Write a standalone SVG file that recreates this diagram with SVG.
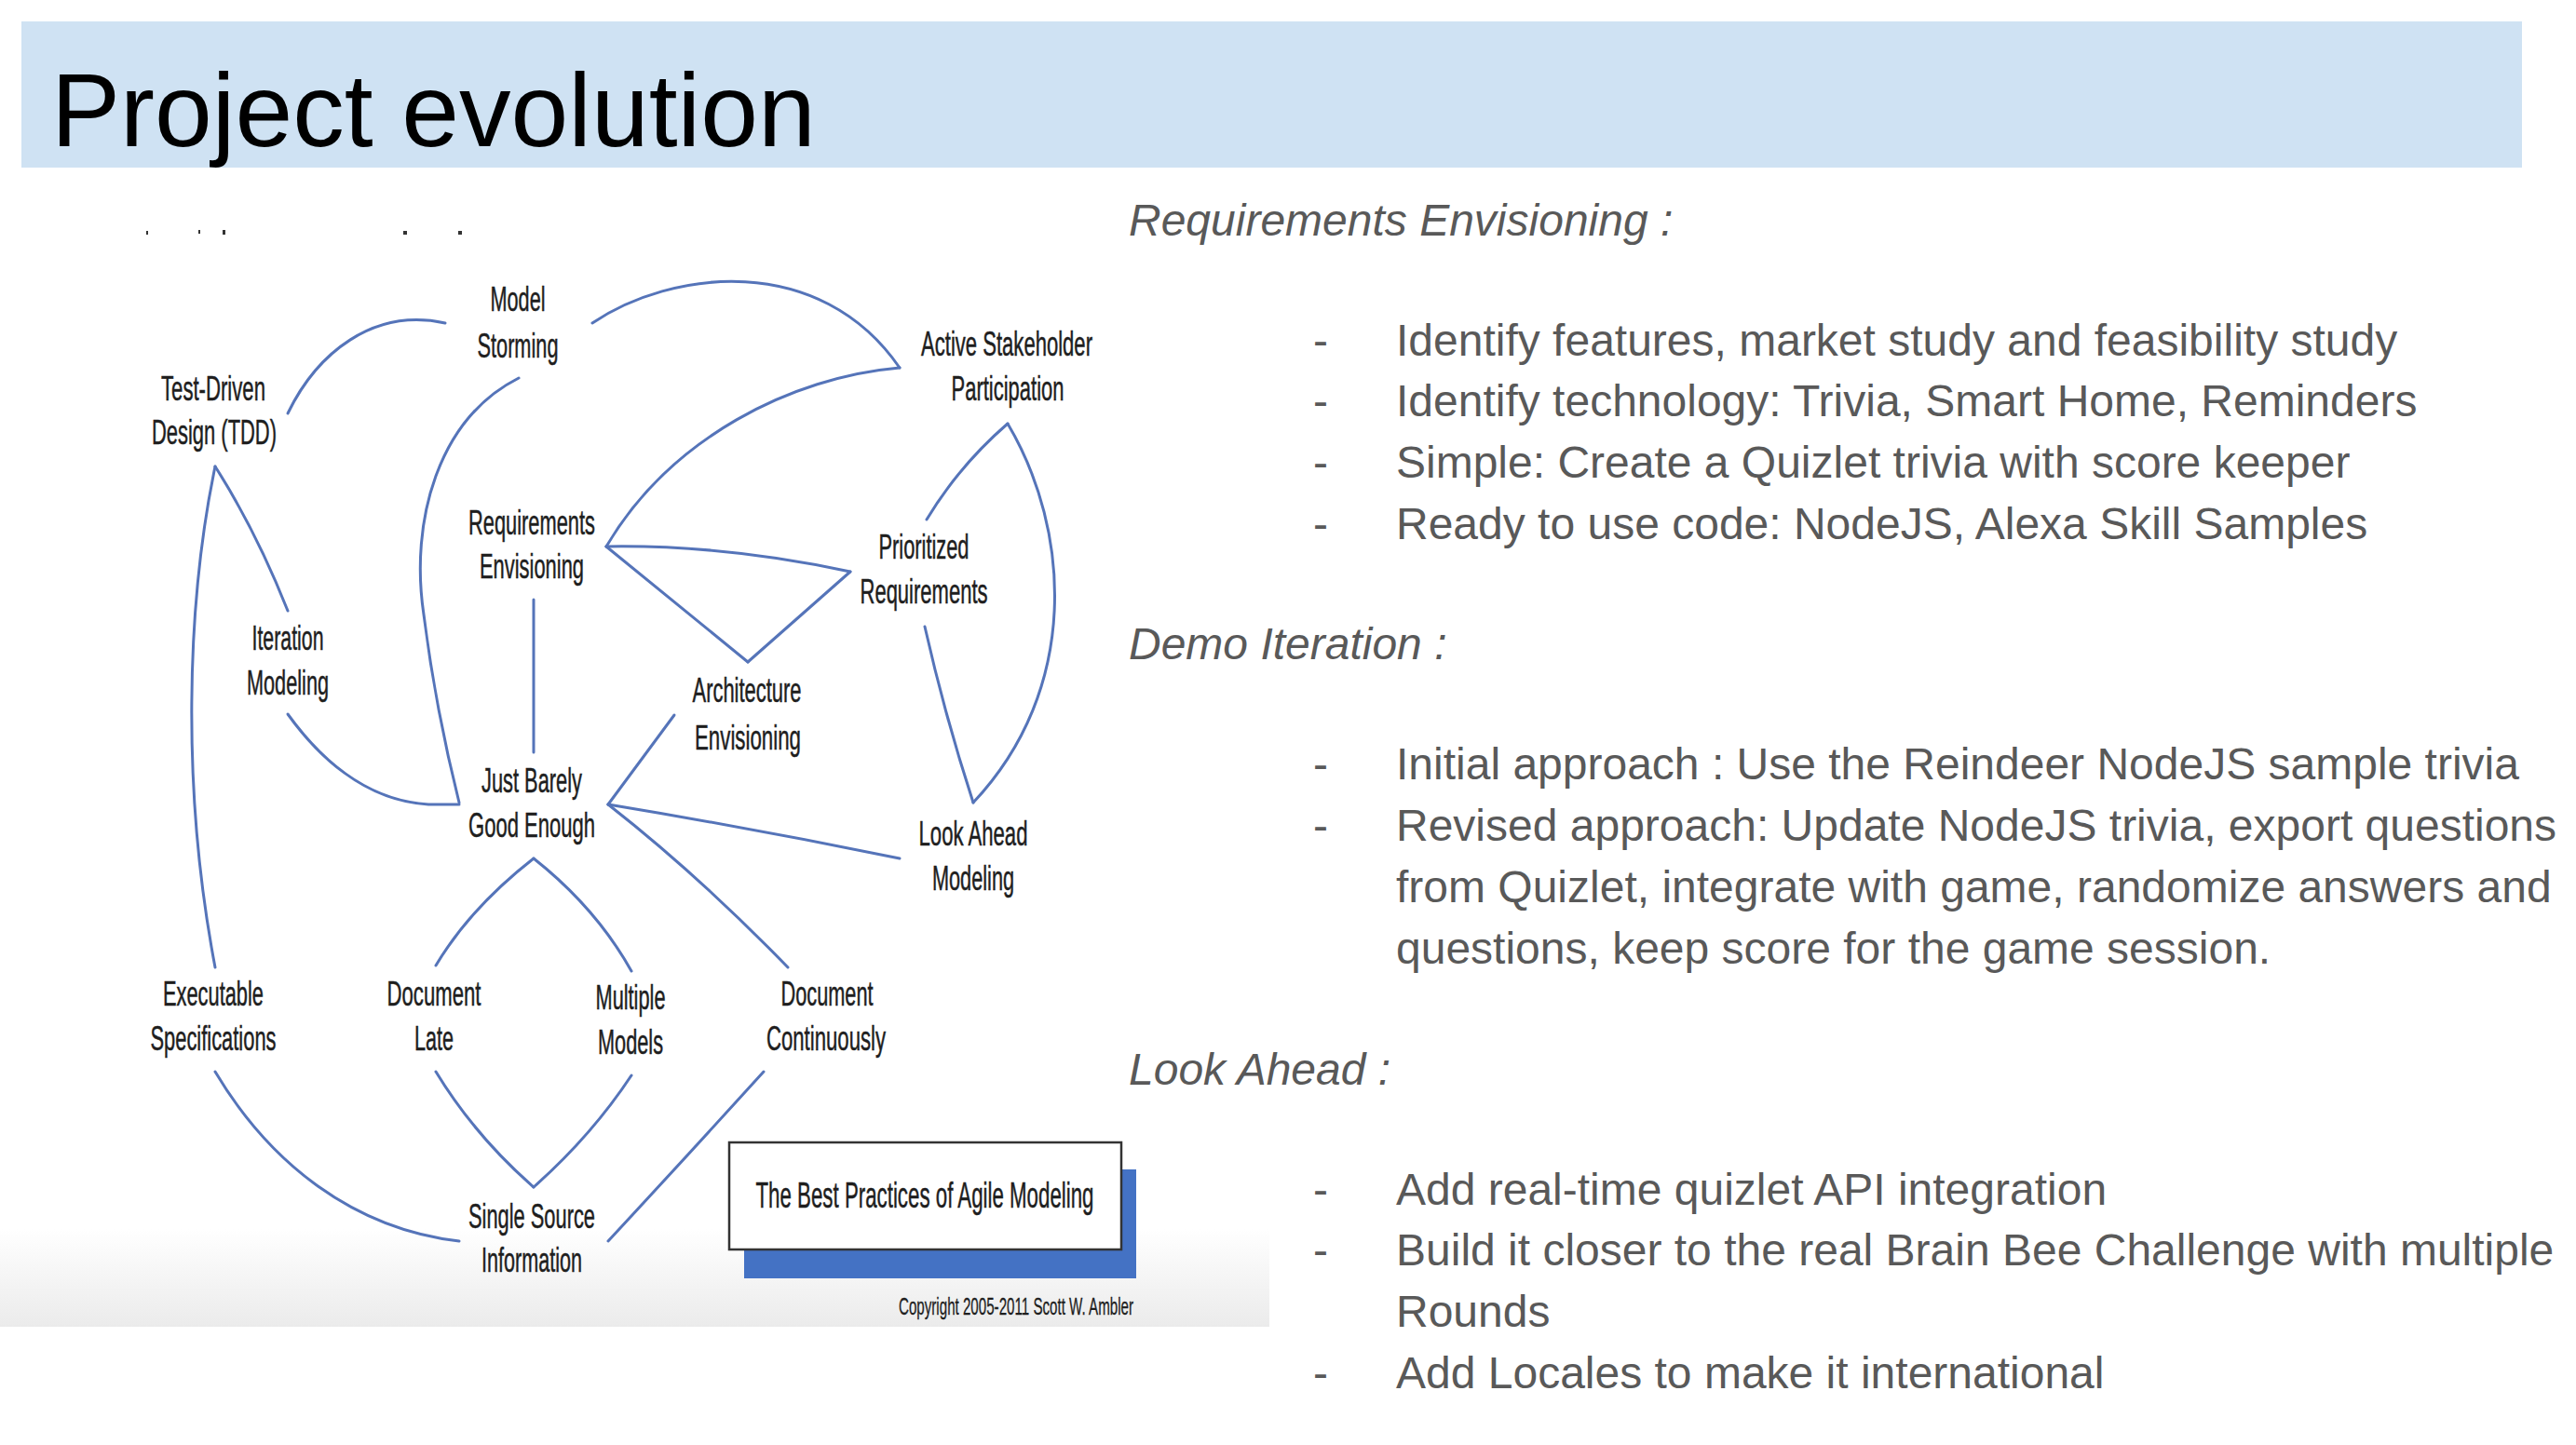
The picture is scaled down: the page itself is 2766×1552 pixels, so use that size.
<svg xmlns="http://www.w3.org/2000/svg" width="2766" height="1552" viewBox="0 0 2766 1552">
<defs>
<linearGradient id="fade" x1="0" y1="0" x2="0" y2="1">
<stop offset="0" stop-color="#ffffff"/>
<stop offset="1" stop-color="#ebebeb"/>
</linearGradient>
</defs>
<style>
.lbl{font-family:"Liberation Sans Narrow","Liberation Sans",Arial,sans-serif;font-size:36px;fill:#1e1e1e;stroke:#1e1e1e;stroke-width:0.5;text-anchor:middle}
.con path{fill:none;stroke:#5574b9;stroke-width:3;stroke-linecap:round}
.hd{font-family:"Liberation Sans",Arial,sans-serif;font-size:48px;font-style:italic;fill:#595959}
.bl{font-family:"Liberation Sans",Arial,sans-serif;font-size:48px;fill:#595959}
</style>
<rect width="2766" height="1552" fill="#ffffff"/>
<g id="title">
<rect x="23" y="23" width="2685" height="157" fill="#cfe2f3"/>
<text x="55" y="157" font-family="Liberation Sans, Arial, sans-serif" font-size="111" fill="#000000">Project evolution</text>
</g>
<g id="diagram-bg">
<rect x="0" y="1320" width="1363" height="105" fill="url(#fade)"/>
<g fill="#333333">
<rect x="157" y="248" width="2" height="4"/>
<rect x="213" y="247" width="2" height="4"/>
<rect x="239" y="247" width="3" height="5"/>
<rect x="433" y="248" width="4" height="4"/>
<rect x="492" y="248" width="4" height="4"/>
</g>
</g>
<g class="con" id="connectors">
<path d="M309,444 C340,380 400,330 478,347"/>
<path d="M636,347 C720,290 880,270 966,395"/>
<path d="M966,395 C850,405 720,470 651,587"/>
<path d="M557,406 C470,450 440,560 455,660 C465,740 480,810 493,862"/>
<path d="M309,767 C340,810 390,860 460,864 L493,864"/>
<path d="M231,501 Q275,570 309,656"/>
<path d="M231,501 C200,650 195,850 231,1039"/>
<path d="M651,587 Q780,585 913,614"/>
<path d="M651,587 L803,711"/>
<path d="M803,711 L913,614"/>
<path d="M1082,455 Q1030,500 995,558"/>
<path d="M1082,455 C1150,570 1160,740 1045,862"/>
<path d="M993,673 Q1015,770 1045,862"/>
<path d="M573,644 L573,808"/>
<path d="M653,864 L724,768"/>
<path d="M653,864 Q810,890 966,922"/>
<path d="M653,864 Q750,940 846,1039"/>
<path d="M573,922 Q505,975 468,1037"/>
<path d="M573,922 Q640,975 678,1043"/>
<path d="M468,1151 Q510,1220 573,1275"/>
<path d="M678,1155 Q635,1220 573,1275"/>
<path d="M231,1151 C290,1250 380,1320 493,1333"/>
<path d="M820,1151 Q730,1250 653,1333"/>
</g>
<g id="model-storming"><text class="lbl" x="556" y="334" textLength="59" lengthAdjust="spacingAndGlyphs">Model</text><text class="lbl" x="556" y="384" textLength="87" lengthAdjust="spacingAndGlyphs">Storming</text></g>
<g id="tdd"><text class="lbl" x="229" y="430" textLength="112" lengthAdjust="spacingAndGlyphs">Test-Driven</text><text class="lbl" x="230" y="477" textLength="134" lengthAdjust="spacingAndGlyphs">Design (TDD)</text></g>
<g id="active-stakeholder"><text class="lbl" x="1081" y="382" textLength="184" lengthAdjust="spacingAndGlyphs">Active Stakeholder</text><text class="lbl" x="1082" y="430" textLength="121" lengthAdjust="spacingAndGlyphs">Participation</text></g>
<g id="requirements-envisioning"><text class="lbl" x="571" y="574" textLength="136" lengthAdjust="spacingAndGlyphs">Requirements</text><text class="lbl" x="571" y="621" textLength="112" lengthAdjust="spacingAndGlyphs">Envisioning</text></g>
<g id="prioritized-requirements"><text class="lbl" x="992" y="600" textLength="97" lengthAdjust="spacingAndGlyphs">Prioritized</text><text class="lbl" x="992" y="648" textLength="137" lengthAdjust="spacingAndGlyphs">Requirements</text></g>
<g id="iteration-modeling"><text class="lbl" x="309" y="698" textLength="77" lengthAdjust="spacingAndGlyphs">Iteration</text><text class="lbl" x="309" y="746" textLength="88" lengthAdjust="spacingAndGlyphs">Modeling</text></g>
<g id="architecture-envisioning"><text class="lbl" x="802" y="754" textLength="117" lengthAdjust="spacingAndGlyphs">Architecture</text><text class="lbl" x="803" y="805" textLength="114" lengthAdjust="spacingAndGlyphs">Envisioning</text></g>
<g id="just-barely"><text class="lbl" x="571" y="851" textLength="108" lengthAdjust="spacingAndGlyphs">Just Barely</text><text class="lbl" x="571" y="899" textLength="136" lengthAdjust="spacingAndGlyphs">Good Enough</text></g>
<g id="look-ahead"><text class="lbl" x="1045" y="908" textLength="117" lengthAdjust="spacingAndGlyphs">Look Ahead</text><text class="lbl" x="1045" y="956" textLength="88" lengthAdjust="spacingAndGlyphs">Modeling</text></g>
<g id="executable-specs"><text class="lbl" x="229" y="1080" textLength="108" lengthAdjust="spacingAndGlyphs">Executable</text><text class="lbl" x="229" y="1128" textLength="135" lengthAdjust="spacingAndGlyphs">Specifications</text></g>
<g id="document-late"><text class="lbl" x="466" y="1080" textLength="101" lengthAdjust="spacingAndGlyphs">Document</text><text class="lbl" x="466" y="1128" textLength="42" lengthAdjust="spacingAndGlyphs">Late</text></g>
<g id="multiple-models"><text class="lbl" x="677" y="1084" textLength="75" lengthAdjust="spacingAndGlyphs">Multiple</text><text class="lbl" x="677" y="1132" textLength="70" lengthAdjust="spacingAndGlyphs">Models</text></g>
<g id="document-continuously"><text class="lbl" x="888" y="1080" textLength="99" lengthAdjust="spacingAndGlyphs">Document</text><text class="lbl" x="887" y="1128" textLength="128" lengthAdjust="spacingAndGlyphs">Continuously</text></g>
<g id="single-source"><text class="lbl" x="571" y="1319" textLength="136" lengthAdjust="spacingAndGlyphs">Single Source</text><text class="lbl" x="571" y="1366" textLength="108" lengthAdjust="spacingAndGlyphs">Information</text></g>
<g id="best-practices">
<rect x="799" y="1256" width="421" height="117" fill="#4472c4"/>
<rect x="783" y="1227" width="421" height="115" fill="#ffffff" stroke="#333333" stroke-width="2.5"/>
<text class="lbl" x="993" y="1297" textLength="363" lengthAdjust="spacingAndGlyphs" style="font-size:39px">The Best Practices of Agile Modeling</text>
</g>
<g id="copyright"><text class="lbl" x="1091" y="1412" textLength="252" lengthAdjust="spacingAndGlyphs" style="font-size:25px;stroke-width:0.3">Copyright 2005-2011 Scott W. Ambler</text></g>
<g id="notes">
<text class="hd" x="1212" y="253">Requirements Envisioning :</text>
<text class="bl" x="1410" y="382">-</text><text class="bl" x="1499" y="382">Identify features, market study and feasibility study</text>
<text class="bl" x="1410" y="447">-</text><text class="bl" x="1499" y="447">Identify technology: Trivia, Smart Home, Reminders</text>
<text class="bl" x="1410" y="513">-</text><text class="bl" x="1499" y="513">Simple: Create a Quizlet trivia with score keeper</text>
<text class="bl" x="1410" y="579">-</text><text class="bl" x="1499" y="579">Ready to use code: NodeJS, Alexa Skill Samples</text>
<text class="hd" x="1212" y="708">Demo Iteration :</text>
<text class="bl" x="1410" y="837">-</text><text class="bl" x="1499" y="837">Initial approach : Use the Reindeer NodeJS sample trivia</text>
<text class="bl" x="1410" y="903">-</text><text class="bl" x="1499" y="903">Revised approach: Update NodeJS trivia, export questions</text>
<text class="bl" x="1499" y="969">from Quizlet, integrate with game, randomize answers and</text>
<text class="bl" x="1499" y="1035">questions, keep score for the game session.</text>
<text class="hd" x="1212" y="1165">Look Ahead :</text>
<text class="bl" x="1410" y="1294">-</text><text class="bl" x="1499" y="1294">Add real-time quizlet API integration</text>
<text class="bl" x="1410" y="1359">-</text><text class="bl" x="1499" y="1359">Build it closer to the real Brain Bee Challenge with multiple</text>
<text class="bl" x="1499" y="1425">Rounds</text>
<text class="bl" x="1410" y="1491">-</text><text class="bl" x="1499" y="1491">Add Locales to make it international</text>
</g>
</svg>
